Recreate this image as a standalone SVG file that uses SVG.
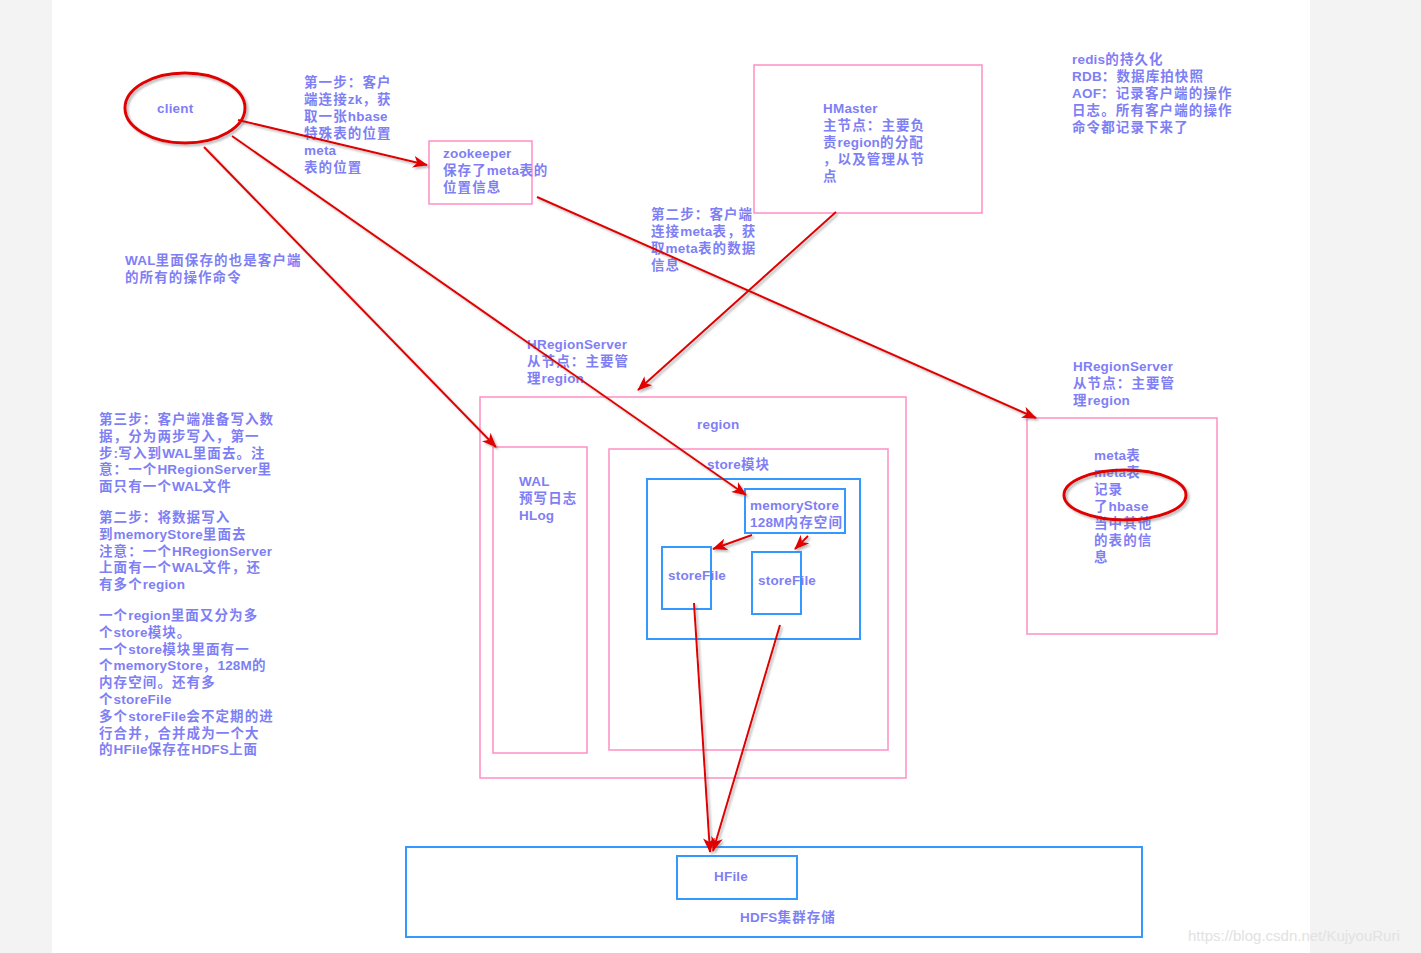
<svg xmlns="http://www.w3.org/2000/svg" width="1421" height="953" viewBox="0 0 1421 953">
<style>
text{font-family:"Liberation Sans","Noto Sans CJK SC",sans-serif;font-size:13.5px;font-weight:bold;fill:#7f7ff5;letter-spacing:0.2px}
.c{letter-spacing:1.1px}
.pink{fill:none;stroke:#ff8fc4;stroke-width:1.5}
.blue{fill:none;stroke:#3399ff;stroke-width:2}
.red{fill:none;stroke:#e00000;stroke-width:2}
.ell{fill:none;stroke:#e00000;stroke-width:3}
.wm{fill:#e2e2e2;font-weight:normal;font-size:15px;letter-spacing:0}
</style>
<defs>
<marker id="ah" markerUnits="userSpaceOnUse" markerWidth="16" markerHeight="12" refX="14" refY="6" orient="auto">
<path d="M0,0 L15,6 L0,12 L4,6 z" fill="#e00000"/>
</marker>
<filter id="sh" x="-10%" y="-10%" width="120%" height="120%">
<feDropShadow dx="2" dy="2" stdDeviation="1.2" flood-color="#666" flood-opacity="0.45"/>
</filter>
</defs>
<rect x="0" y="0" width="1421" height="953" fill="#f3f3f3"/>
<rect x="52" y="0" width="1258" height="953" fill="#ffffff"/>

<g id="client">
<ellipse cx="185" cy="108" rx="60" ry="35" class="ell" filter="url(#sh)"/>
<text x="157" y="113">client</text>
</g>

<g id="step1">
<text x="304" y="87"><tspan x="304" class="c">第一步：客户</tspan><tspan x="304" dy="17"><tspan class="c">端连接</tspan>zk<tspan class="c">，获</tspan></tspan><tspan x="304" dy="17"><tspan class="c">取一张</tspan>hbase</tspan><tspan x="304" dy="17" class="c">特殊表的位置</tspan><tspan x="304" dy="17">meta</tspan><tspan x="304" dy="17" class="c">表的位置</tspan></text>
</g>

<g id="zookeeper">
<rect x="429" y="141" width="103" height="63" class="pink"/>
<text x="443" y="158"><tspan x="443">zookeeper</tspan><tspan x="443" dy="17"><tspan class="c">保存了</tspan>meta<tspan class="c">表的</tspan></tspan><tspan x="443" dy="17" class="c">位置信息</tspan></text>
</g>

<g id="hmaster">
<rect x="754" y="65" width="228" height="148" class="pink"/>
<text x="823" y="113"><tspan x="823">HMaster</tspan><tspan x="823" dy="17" class="c">主节点：主要负</tspan><tspan x="823" dy="17"><tspan class="c">责</tspan>region<tspan class="c">的分配</tspan></tspan><tspan x="823" dy="17" class="c">，以及管理从节</tspan><tspan x="823" dy="17" class="c">点</tspan></text>
</g>

<g id="redis">
<text x="1072" y="64"><tspan x="1072">redis<tspan class="c">的持久化</tspan></tspan><tspan x="1072" dy="17">RDB<tspan class="c">：数据库拍快照</tspan></tspan><tspan x="1072" dy="17">AOF<tspan class="c">：记录客户端的操作</tspan></tspan><tspan x="1072" dy="17" class="c">日志。所有客户端的操作</tspan><tspan x="1072" dy="17" class="c">命令都记录下来了</tspan></text>
</g>

<g id="step2">
<text x="651" y="219"><tspan x="651" class="c">第二步：客户端</tspan><tspan x="651" dy="17"><tspan class="c">连接</tspan>meta<tspan class="c">表，获</tspan></tspan><tspan x="651" dy="17"><tspan class="c">取</tspan>meta<tspan class="c">表的数据</tspan></tspan><tspan x="651" dy="17" class="c">信息</tspan></text>
</g>

<g id="walnote">
<text x="125" y="265"><tspan x="125">WAL<tspan class="c">里面保存的也是客户端</tspan></tspan><tspan x="125" dy="17" class="c">的所有的操作命令</tspan></text>
</g>

<g id="leftnotes">
<text x="99" y="424"><tspan x="99" class="c">第三步：客户端准备写入数</tspan><tspan x="99" dy="16.8" class="c">据，分为两步写入，第一</tspan><tspan x="99" dy="16.8"><tspan class="c">步</tspan>:<tspan class="c">写入到</tspan>WAL<tspan class="c">里面去。注</tspan></tspan><tspan x="99" dy="16.8"><tspan class="c">意：一个</tspan>HRegionServer<tspan class="c">里</tspan></tspan><tspan x="99" dy="16.8"><tspan class="c">面只有一个</tspan>WAL<tspan class="c">文件</tspan></tspan><tspan x="99" dy="30.8" class="c">第二步：将数据写入</tspan><tspan x="99" dy="16.8"><tspan class="c">到</tspan>memoryStore<tspan class="c">里面去</tspan></tspan><tspan x="99" dy="16.8"><tspan class="c">注意：一个</tspan>HRegionServer</tspan><tspan x="99" dy="16.8"><tspan class="c">上面有一个</tspan>WAL<tspan class="c">文件，还</tspan></tspan><tspan x="99" dy="16.8"><tspan class="c">有多个</tspan>region</tspan><tspan x="99" dy="30.8"><tspan class="c">一个</tspan>region<tspan class="c">里面又分为多</tspan></tspan><tspan x="99" dy="16.8"><tspan class="c">个</tspan>store<tspan class="c">模块。</tspan></tspan><tspan x="99" dy="16.8"><tspan class="c">一个</tspan>store<tspan class="c">模块里面有一</tspan></tspan><tspan x="99" dy="16.8"><tspan class="c">个</tspan>memoryStore<tspan class="c">，</tspan>128M<tspan class="c">的</tspan></tspan><tspan x="99" dy="16.8" class="c">内存空间。还有多</tspan><tspan x="99" dy="16.8"><tspan class="c">个</tspan>storeFile</tspan><tspan x="99" dy="16.8"><tspan class="c">多个</tspan>storeFile<tspan class="c">会不定期的进</tspan></tspan><tspan x="99" dy="16.8" class="c">行合并，合并成为一个大</tspan><tspan x="99" dy="16.8"><tspan class="c">的</tspan>HFile<tspan class="c">保存在</tspan>HDFS<tspan class="c">上面</tspan></tspan></text>
</g>

<g id="hregionserver1">
<text x="527" y="349"><tspan x="527">HRegionServer</tspan><tspan x="527" dy="17" class="c">从节点：主要管</tspan><tspan x="527" dy="17"><tspan class="c">理</tspan>region</tspan></text>
<rect x="480" y="397" width="426" height="381" class="pink"/>
<text x="697" y="429">region</text>
</g>

<g id="wal">
<rect x="493" y="447" width="94" height="306" class="pink"/>
<text x="519" y="486"><tspan x="519">WAL</tspan><tspan x="519" dy="17" class="c">预写日志</tspan><tspan x="519" dy="17">HLog</tspan></text>
</g>

<g id="store">
<rect x="609" y="449" width="279" height="301" class="pink"/>
<text x="707" y="469">store<tspan class="c">模块</tspan></text>
<rect x="647" y="479" width="213" height="160" class="blue"/>
</g>

<g id="memorystore">
<rect x="745" y="489" width="100" height="44" class="blue"/>
<text x="750" y="510"><tspan x="750">memoryStore</tspan><tspan x="750" dy="17">128M<tspan class="c">内存空间</tspan></tspan></text>
</g>

<g id="storefile1">
<rect x="662" y="547" width="49" height="62" class="blue"/>
<text x="668" y="580">storeFile</text>
</g>

<g id="storefile2">
<rect x="752" y="552" width="49" height="62" class="blue"/>
<text x="758" y="585">storeFile</text>
</g>

<g id="hregionserver2">
<text x="1073" y="371"><tspan x="1073">HRegionServer</tspan><tspan x="1073" dy="17" class="c">从节点：主要管</tspan><tspan x="1073" dy="17"><tspan class="c">理</tspan>region</tspan></text>
<rect x="1027" y="418" width="190" height="216" class="pink"/>
<text x="1094" y="460"><tspan x="1094">meta<tspan class="c">表</tspan></tspan><tspan x="1094" dy="17">meta<tspan class="c">表</tspan></tspan><tspan x="1094" dy="17" class="c">记录</tspan><tspan x="1094" dy="17"><tspan class="c">了</tspan>hbase</tspan><tspan x="1094" dy="17" class="c">当中其他</tspan><tspan x="1094" dy="17" class="c">的表的信</tspan><tspan x="1094" dy="17" class="c">息</tspan></text>
<ellipse cx="1125" cy="495" rx="61" ry="25" class="ell" filter="url(#sh)"/>
</g>

<g id="hdfs">
<rect x="406" y="847" width="736" height="90" class="blue"/>
<text x="740" y="922">HDFS<tspan class="c">集群存储</tspan></text>
</g>

<g id="hfile">
<rect x="677" y="856" width="120" height="43" class="blue"/>
<text x="714" y="881">HFile</text>
</g>

<g id="connectors" filter="url(#sh)">
<line x1="238" y1="120" x2="427" y2="165" class="red" marker-end="url(#ah)"/>
<line x1="204" y1="147" x2="496" y2="447" class="red" marker-end="url(#ah)"/>
<line x1="232" y1="136" x2="746" y2="495" class="red" marker-end="url(#ah)"/>
<line x1="537" y1="197" x2="1036" y2="418" class="red" marker-end="url(#ah)"/>
<line x1="836" y1="212" x2="638" y2="390" class="red" marker-end="url(#ah)"/>
<line x1="752" y1="535" x2="713" y2="549" class="red" marker-end="url(#ah)"/>
<line x1="808" y1="536" x2="795" y2="549" class="red" marker-end="url(#ah)"/>
<line x1="694" y1="603" x2="710" y2="852" class="red" marker-end="url(#ah)"/>
<line x1="780" y1="625" x2="713" y2="851" class="red" marker-end="url(#ah)"/>
</g>

<text x="1188" y="941" class="wm">https://blog.csdn.net/KujyouRuri</text>
</svg>
